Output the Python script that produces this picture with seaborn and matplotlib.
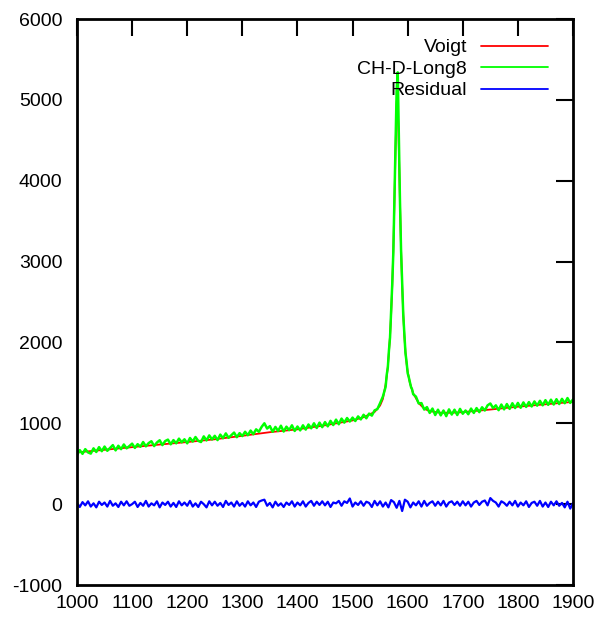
import numpy as np
import pandas as pd
import matplotlib
matplotlib.use("Agg")
import matplotlib.pyplot as plt
import seaborn as sns

# ---- Voigt fit (smooth curve) ----
voigt_x = [1000, 1050, 1100, 1150, 1200, 1250, 1300, 1350, 1400, 1450, 1500, 1520,
           1540, 1550, 1555, 1560, 1562, 1564, 1566, 1568, 1570, 1572, 1574, 1576,
           1578, 1580, 1581, 1582, 1584, 1586, 1588, 1590, 1592, 1594, 1596, 1598,
           1600, 1604, 1610, 1620, 1630, 1640, 1660, 1680, 1700, 1750, 1800, 1850, 1900]
voigt_y = [640, 672, 705, 737, 768, 802, 845, 890, 925, 975, 1035, 1075,
           1140, 1220, 1300, 1480, 1580, 1700, 1880, 2080, 2350, 2700, 3150, 3750,
           4400, 4950, 5050, 4950, 4400, 3750, 3150, 2700, 2350, 2080, 1880, 1740,
           1640, 1500, 1370, 1250, 1180, 1150, 1130, 1130, 1138, 1170, 1205, 1235, 1265]

# ---- measured spectrum CH-D-Long8 ----
spec_x = list(range(1000, 1561, 5)) + list(range(1562, 1611, 2)) + list(range(1615, 1901, 5))
spec_y = [
    605, 668, 622, 680, 640, 625, 690, 645, 705, 655,
    712, 660, 695, 730, 665, 722, 680, 738, 690, 718,
    748, 695, 742, 710, 768, 715, 755, 778, 718, 762,
    790, 730, 780, 798, 740, 792, 752, 810, 765, 802,
    752, 818, 775, 830, 782, 768, 838, 788, 850, 800,
    845, 792, 860, 815, 875, 820, 852, 885, 828, 878,
    842, 895, 852, 910, 865, 925, 895, 955, 1000, 935,
    965, 895, 955, 905, 970, 898, 958, 915, 975, 905,
    960, 912, 975, 922, 985, 938, 1000, 942, 1008, 952,
    1015, 962, 1030, 978, 1045, 988, 1058, 1008, 1065, 1022,
    1070, 1028, 1085, 1048, 1105, 1062, 1120, 1095, 1160, 1175,
    1250, 1330, 1450,
    1600, 1690, 1900, 2060, 2380, 2720, 3120, 3800, 4480, 5120,
    5340, 4520, 3760, 3140, 2720, 2340, 2110, 1870, 1760, 1620,
    1570, 1510, 1450, 1420, 1360,
    1330, 1245, 1250, 1170, 1200, 1128, 1182, 1102, 1168, 1098,
    1158, 1088, 1172, 1108, 1168, 1102, 1178, 1118, 1158, 1112,
    1182, 1128, 1188, 1138, 1198, 1158, 1222, 1245, 1188, 1222,
    1162, 1232, 1172, 1238, 1178, 1248, 1188, 1252, 1192, 1258,
    1202, 1262, 1208, 1270, 1218, 1278, 1222, 1286, 1228, 1292,
    1232, 1298, 1238, 1302, 1248, 1312, 1252, 1295,
]

# ---- residual ----
resid_x = list(range(1000, 1901, 5))
resid_y = [
    15, -35, 25, -15, 35, -30, 10, -40, 30, -10,
    20, -30, 40, -20, 10, -35, 30, -15, 35, -20,
    0, 30, -35, 15, -20, 40, -30, 10, -15, 35,
    -40, 20, -10, 30, -30, 15, -35, 35, -15, 20,
    -20, 40, -30, 10, -35, 30, 0, -40, 35, -15,
    30, -20, 15, -35, 40, -10, 20, -30, 35, -20,
    15, -30, 35, -15, 20, -35, 30, 45, 55, -20,
    15, -40, 30, -20, 10, -35, 20, -10, 35, -30,
    20, -15, 35, -30, 15, 40, -20, 30, -10, 35,
    -15, 30, -35, 20, 10, 40, -20, 35, 15, 70,
    -30, 20, -10, 35, -20, 30, 15, -35, 40, -15,
    35, -30, 20, -40, 50, 25, -45, 40, -85, 55,
    30, -40, 20, -15, 35, -30, 40, -20, 15, 35,
    -20, 30, -15, 40, -30, 20, 35, -10, 30, -20,
    35, -15, 30, -30, 20, 40, -10, 30, 45, -15,
    75, 40, 20, -30, 35, 15, -20, 30, -15, 40,
    -30, 20, -15, 35, -35, 15, 30, -20, 40, -30,
    20, -35, 30, -15, 35, -20, 15, -40, 30, -55,
    15,
]

x_ticks = [1000, 1100, 1200, 1300, 1400, 1500, 1600, 1700, 1800, 1900]
y_ticks = [-1000, 0, 1000, 2000, 3000, 4000, 5000, 6000]

sns.set_style("white")
plt.rcParams['font.family'] = ['Liberation Sans', 'DejaVu Sans']
plt.rcParams['axes.unicode_minus'] = False
plt.rcParams['text.color'] = 'black'

fig = plt.figure(figsize=(6.06, 6.18), dpi=100)
ax = fig.add_axes([77/606, 33/618, 496/606, 566/618])

df_v = pd.DataFrame({"x": voigt_x, "y": voigt_y})
df_s = pd.DataFrame({"x": spec_x, "y": spec_y})
df_r = pd.DataFrame({"x": resid_x, "y": resid_y})

sns.lineplot(data=df_v, x="x", y="y", ax=ax, color="#ff0000", lw=1.3,
             sort=False, estimator=None, label="Voigt")
sns.lineplot(data=df_s, x="x", y="y", ax=ax, color="#00ff00", lw=1.8,
             sort=False, estimator=None, label="CH-D-Long8")
sns.lineplot(data=df_r, x="x", y="y", ax=ax, color="#0000ff", lw=1.6,
             sort=False, estimator=None, label="Residual")

ax.set_xlim(1000, 1900)
ax.set_ylim(-1000, 6000)
ax.set_xticks(x_ticks)
ax.set_yticks(y_ticks)
ax.set_xlabel("")
ax.set_ylabel("")
ax.tick_params(direction="in", length=12, width=1.5, top=True, right=True,
               labelsize=14, colors="black")
ax.tick_params(axis="y", pad=10.5)
ax.tick_params(axis="x", pad=7.5)
for sp in ax.spines.values():
    sp.set_visible(True)
    sp.set_color("black")
    sp.set_linewidth(2.0)

leg = ax.legend(loc="upper right", bbox_to_anchor=(0.9496, 0.965), frameon=False,
                markerfirst=False, fontsize=14, handlelength=3.45, handletextpad=0.72,
                labelspacing=0.2, borderpad=0, borderaxespad=0)
for line in leg.get_lines():
    line.set_linewidth(1.3)
for t in leg.get_texts():
    t.set_color("black")

fig.savefig("out.png", dpi=100)
